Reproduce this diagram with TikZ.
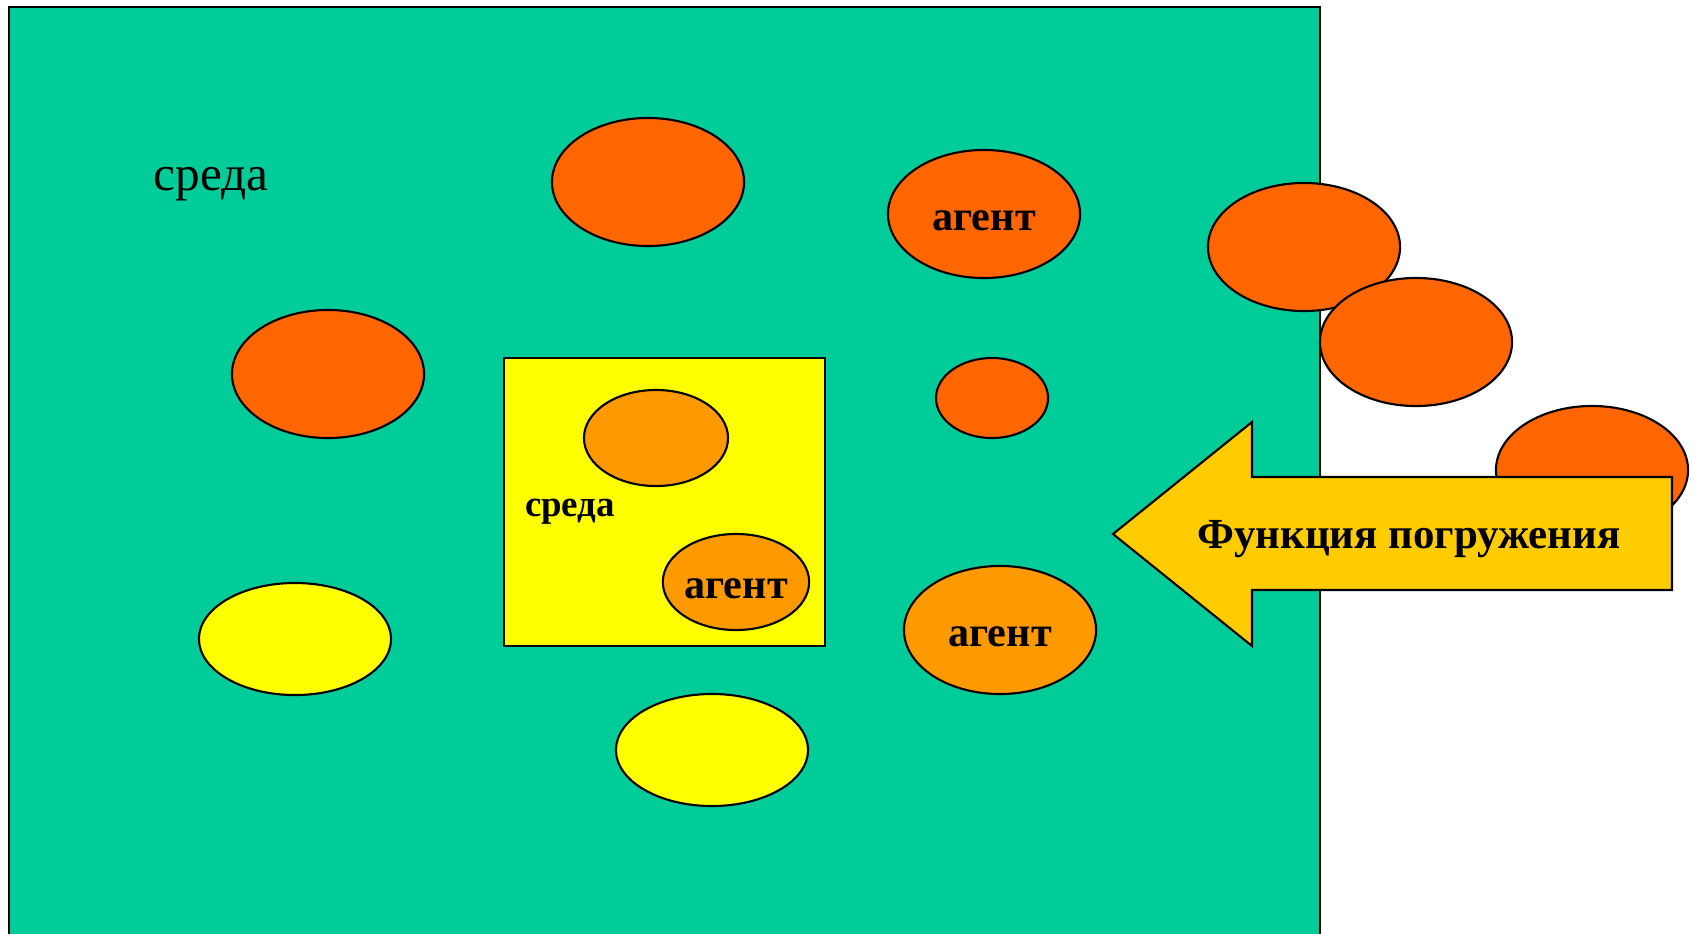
\documentclass[tikz,border=0pt]{standalone}
\usepackage{fontspec}
\setmainfont{Liberation Serif}
\usepackage{xcolor}
\usepackage{tikz}
\usetikzlibrary{shapes.geometric}
\definecolor{envgreen}{HTML}{00CC99}
\definecolor{agorange}{HTML}{FF6600}
\definecolor{aglight}{HTML}{FF9900}
\definecolor{envyellow}{HTML}{FFFF00}
\definecolor{arrowgold}{HTML}{FFCC00}

\begin{document}
\begin{tikzpicture}[
    x=0.01cm, y=-0.01cm,
    blob/.style={ellipse, draw=black, line width=0.6pt, inner sep=0pt,
                 minimum width=1.92cm, minimum height=1.28cm},
    bigblob/.style={blob, fill=agorange},
    lightblob/.style={blob, fill=aglight},
    yellowblob/.style={blob, fill=envyellow, minimum height=1.12cm},
    innerblob/.style={blob, fill=aglight, minimum width=1.44cm, minimum height=0.96cm},
    lbl/.style={font=\fontsize{12}{14}\selectfont\bfseries},
    agentlbl/.style={lbl, text height=9.5pt, text depth=0pt},
]
\useasboundingbox (0,0) rectangle (1697,933);
\clip (0,0) rectangle (1697,933);

% ============== outer environment ==============
\draw[fill=envgreen, line width=0.6pt] (9,7) rectangle (1320,960);
\node[font=\fontsize{14}{16}\selectfont] (env) at (211,184) {среда};

% ============== agents in the environment ==============
\node[bigblob] (a1) at (648,182) {};
\node[bigblob, agentlbl] (a2) at (984,214) {агент};
\node[bigblob] (a3) at (328,374) {};
\node[bigblob, minimum width=1.12cm, minimum height=0.80cm] (a4) at (992,398) {};
\node[yellowblob] (y1) at (295,639) {};
\node[yellowblob] (y2) at (712,750) {};
\node[lightblob, agentlbl] (a5) at (1000,630) {агент};

% ============== nested environment ==============
\draw[fill=envyellow, line width=0.6pt] (504,358) rectangle (825,646);
\node[innerblob] (i1) at (656,438) {};
\node[innerblob, agentlbl] (i2) at (736,582) {агент};
\node[font=\fontsize{10.5}{12}\selectfont\bfseries] (ienv) at (570,512) {среда};

% ============== agents outside ==============
\node[bigblob] (o1) at (1304,247) {};
\node[bigblob] (o2) at (1416,342) {};
\node[bigblob] (o3) at (1592,470) {};

% ============== immersion arrow ==============
\draw[fill=arrowgold, line width=0.6pt]
    (1113,534) -- (1252,422) -- (1252,477) -- (1672,477)
    -- (1672,590) -- (1252,590) -- (1252,646) -- cycle;
\node[font=\fontsize{12.2}{14}\selectfont\bfseries] (immers) at (1409,539) {Функция погружения};

\end{tikzpicture}
\end{document}
